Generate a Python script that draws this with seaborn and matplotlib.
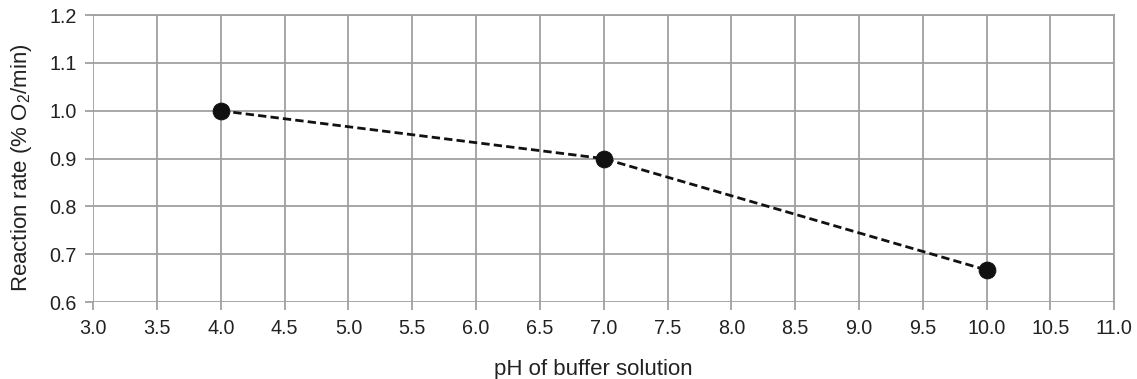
import matplotlib
matplotlib.use("Agg")
import matplotlib.pyplot as plt
import seaborn as sns
import pandas as pd
import numpy as np

ph = [4.0, 7.0, 10.0]
rate = [1.0, 0.9, 0.667]
x_ticks = [3.0, 3.5, 4.0, 4.5, 5.0, 5.5, 6.0, 6.5, 7.0, 7.5, 8.0, 8.5, 9.0, 9.5, 10.0, 10.5, 11.0]
y_ticks = [0.6, 0.7, 0.8, 0.9, 1.0, 1.1, 1.2]

sns.set_style("white")
plt.rcParams['font.family'] = ['Liberation Sans', 'DejaVu Sans']
plt.rcParams['mathtext.fontset'] = 'custom'
plt.rcParams['mathtext.rm'] = 'Liberation Sans'
plt.rcParams['mathtext.it'] = 'Liberation Sans:italic'

df = pd.DataFrame({"pH": ph, "rate": rate})

fig = plt.figure(figsize=(11.37, 3.79), dpi=100)
ax = fig.add_axes([0.082, 0.203, 0.898, 0.757])

sns.lineplot(data=df, x="pH", y="rate", ax=ax, color="#111111", linestyle=(0, (3, 1.5)),
             linewidth=2, marker="o", markersize=12, markeredgecolor="#111111",
             markerfacecolor="#111111", zorder=5)

ax.set_xlim(3.0, 11.0)
ax.set_ylim(0.6, 1.2)
ax.set_xticks(x_ticks)
ax.set_xticklabels([f"{v:.1f}" for v in x_ticks])
ax.set_yticks(y_ticks)
ax.set_yticklabels([f"{v:.1f}" for v in y_ticks])

grid_c = "#a0a0a0"
ax.grid(True, color=grid_c, linewidth=1.3)
for s in ax.spines.values():
    s.set_color(grid_c)
    s.set_linewidth(1.3)
ax.spines['left'].set_visible(False)
ax.spines['bottom'].set_visible(False)
ax.tick_params(axis='both', which='both', bottom=True, left=True, length=6, width=1.3,
               color=grid_c, labelsize=14.2, labelcolor="#222222", direction='out')
ax.tick_params(axis='x', pad=6)
ax.tick_params(axis='y', pad=6)

ax.set_xlabel("pH of buffer solution", fontsize=16, color="#222222")
ax.set_ylabel("Reaction rate (% O$_2$/min)", fontsize=16, color="#222222")
ax.xaxis.set_label_coords(0.49, -0.2)
ax.yaxis.set_label_coords(-0.058, 0.47)

fig.savefig("out.png", dpi=100)
